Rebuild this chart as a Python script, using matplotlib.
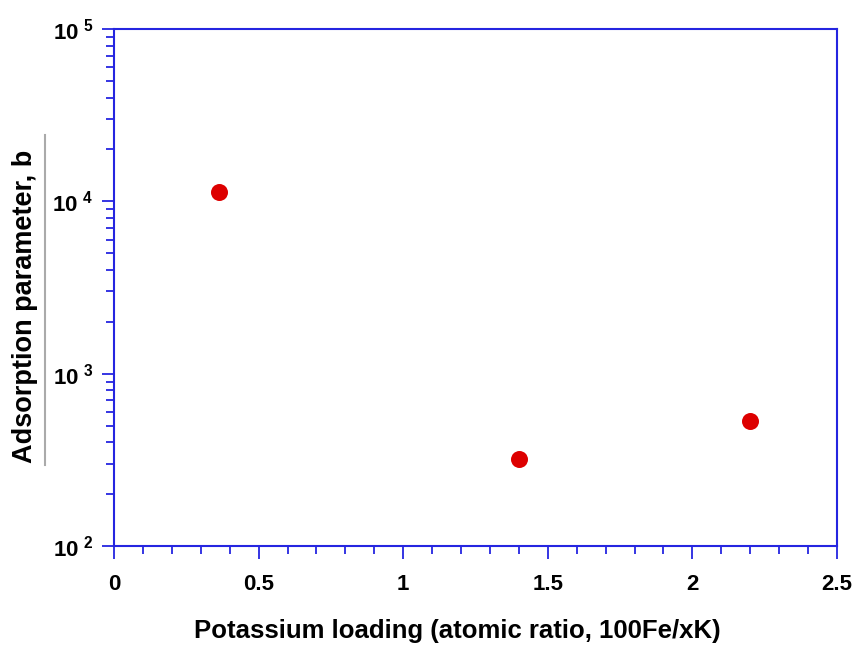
import matplotlib.pyplot as plt
import numpy as np
from matplotlib.ticker import FixedLocator, NullFormatter, FuncFormatter

plt.rcParams['font.family'] = ['Liberation Sans', 'DejaVu Sans']
plt.rcParams['font.weight'] = 'bold'
plt.rcParams['mathtext.fontset'] = 'custom'
plt.rcParams['mathtext.rm'] = 'Liberation Sans:bold'
plt.rcParams['mathtext.bf'] = 'Liberation Sans:bold'

#Data
potassium_loading = [0.363, 1.40, 2.20]
adsorption_b = [11300, 321, 530]

x_ticks = [0, 0.5, 1, 1.5, 2, 2.5]
x_tick_labels = ['0', '0.5', '1', '1.5', '2', '2.5']
y_decades = [2, 3, 4, 5]

blue = '#2525e0'

fig = plt.figure(figsize=(8.56, 6.48), dpi=100)
ax = fig.add_axes([114/856, 1-546/648, (837-114)/856, (546-29)/648])

ax.scatter(potassium_loading, adsorption_b, s=150, color='#dd0000', zorder=3, linewidths=0)

ax.set_yscale('log')
ax.set_xlim(0, 2.5)
ax.set_ylim(1e2, 1e5)

for s in ax.spines.values():
	s.set_color(blue)
	s.set_linewidth(1.5)

ax.set_xticks(x_ticks)
ax.set_xticklabels(x_tick_labels)
ax.xaxis.set_minor_locator(FixedLocator(np.arange(0, 2.51, 0.1)))

ax.yaxis.set_major_locator(FixedLocator([10.0**d for d in y_decades]))
ax.yaxis.set_major_formatter(FuncFormatter(lambda v, p: r'$10^{\ %d}$' % round(np.log10(v))))
minors = [m*10.0**d for d in y_decades[:-1] for m in range(2, 10)]
ax.yaxis.set_minor_locator(FixedLocator(minors))
ax.yaxis.set_minor_formatter(NullFormatter())

ax.tick_params(which='both', direction='out', color=blue, width=1.3, labelsize=16, top=False, right=False)
ax.tick_params(which='major', length=9, pad=11)
ax.tick_params(which='minor', length=6)
ax.tick_params(axis='y', which='major', pad=6)

fig.text(457/856, 1-631/648, 'Potassium loading (atomic ratio, 100Fe/xK)', fontsize=18.5,
		fontweight='bold', ha='center', va='center')

fig.text(25/856, 1-306/648, 'Adsorption parameter, b', rotation=90, fontsize=19.5,
		fontweight='bold', ha='center', va='center')
fig.add_artist(plt.Line2D([45/856, 45/856], [1-135/648, 1-465/648], color='#aaaaaa', linewidth=1.5))

plt.savefig('out.png', dpi=100)
